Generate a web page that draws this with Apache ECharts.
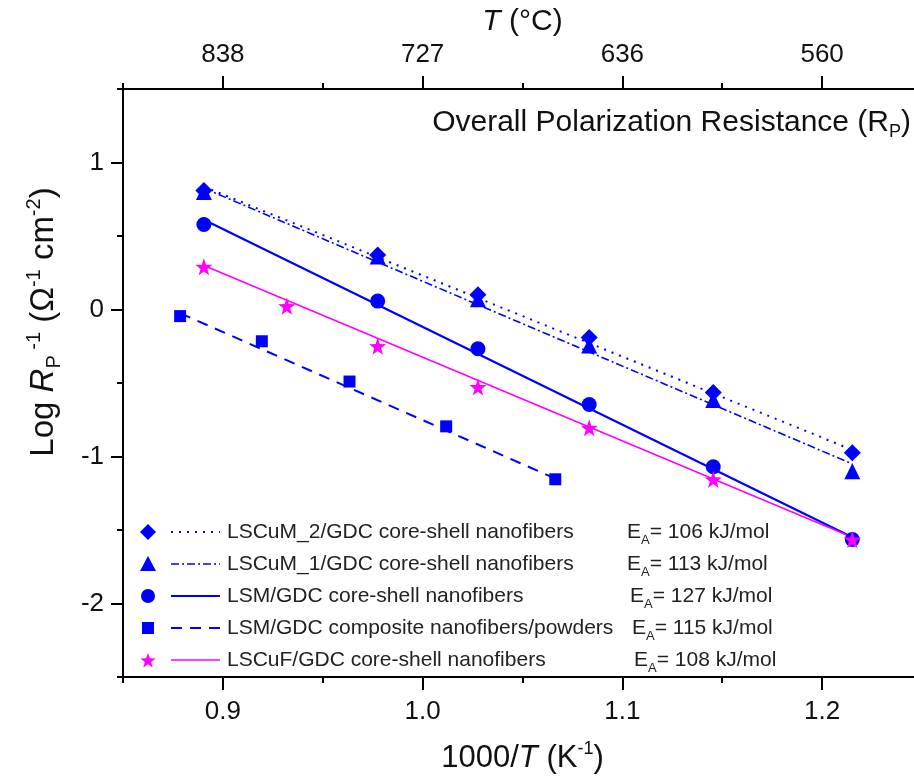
<!DOCTYPE html>
<html>
<head>
<meta charset="utf-8">
<script src="https://cdn.jsdelivr.net/npm/echarts@6/dist/echarts.min.js"></script>
<style>html,body{margin:0;padding:0;background:#fff;}#c{width:914px;height:782px;}</style>
</head>
<body>
<div id="c"></div>
<script>
// ---- data ----
const xCommon = [0.8905, 0.9775, 1.0277, 1.0834, 1.1455, 1.2151];
const lscum2 = [0.81, 0.37, 0.10, -0.19, -0.565, -0.975];
const lscum1 = [0.80, 0.36, 0.07, -0.245, -0.615, -1.10];
const lsmCoreShell = [0.578, 0.057, -0.267, -0.646, -1.07, -1.565];
const xComposite = [0.8786, 0.9195, 0.9634, 1.0118, 1.0664];
const lsmComposite = [-0.045, -0.216, -0.49, -0.795, -1.155];
const xLscuf = [0.8905, 0.932, 0.9775, 1.0277, 1.0834, 1.1455, 1.2151];
const lscuf = [0.29, 0.022, -0.25, -0.528, -0.805, -1.156, -1.565];
// fitted lines (end points)
const fitX = [0.8905, 1.2151];
const fitLscum2 = [0.835, -0.955];
const fitLscum1 = [0.825, -1.05];
const fitLsm = [0.61, -1.55];
const fitLscuf = [0.30, -1.55];
const fitCompX = [0.8786, 1.0664];
const fitComp = [-0.025, -1.15];
// ticks & labels
const xMajor = [0.9, 1.0, 1.1, 1.2];
const xMinor = [0.85, 0.95, 1.05, 1.15, 1.25];
const bottomLabels = ['0.9', '1.0', '1.1', '1.2'];
const topLabels = ['838', '727', '636', '560'];
const yMajor = [-2, -1, 0, 1];
const yMinor = [-2.5, -1.5, -0.5, 0.5, 1.5];
const yLabels = ['-2', '-1', '0', '1'];
const seriesNames = [
  'LSCuM_2/GDC core-shell nanofibers',
  'LSCuM_1/GDC core-shell nanofibers',
  'LSM/GDC core-shell nanofibers',
  'LSM/GDC composite nanofibers/powders',
  'LSCuF/GDC core-shell nanofibers'
];
const eaValues = ['106', '113', '127', '115', '108'];

// ---- styling ----
const FONT = 'Liberation Sans, Arial, Helvetica, sans-serif';
const BLUE = '#0000ff';
const MAG = '#ff00ff';
const TXT = '#111';
const STAR = 'path://M0,-100 L23.5,-32.4 L95.1,-30.9 L38,12.4 L58.8,80.9 L0,40 L-58.8,80.9 L-38,12.4 L-95.1,-30.9 L-23.5,-32.4 Z';

function zip(xs, ys) { return xs.map((x, i) => [x, ys[i]]); }
function pick(values, labels, v) {
  let best = 0, d = Infinity;
  values.forEach((t, i) => { const e = Math.abs(t - v); if (e < d) { d = e; best = i; } });
  return labels[best];
}

const chart = echarts.init(document.getElementById('c'), null, {renderer: 'canvas'});

const axisLineStyle = {show: true, onZero: false, lineStyle: {color: '#000', width: 2}};
const noLine = {show: false, onZero: false};
function richAxis(fs, ss) {
  return {
    t: {fontSize: fs, fontFamily: FONT, color: TXT},
    i: {fontSize: fs, fontFamily: FONT, fontStyle: 'italic', color: TXT},
    sup: {fontSize: ss, fontFamily: FONT, color: TXT, padding: [0, 0, 18, 0]},
    sub: {fontSize: ss, fontFamily: FONT, color: TXT, padding: [18, 0, 0, 0]}
  };
}

const xBase = {
  type: 'value', min: 0.85, max: 1.25, interval: 0.05,
  splitLine: {show: false}, gridIndex: 0
};

const option = {
  animation: false,
  backgroundColor: '#fff',
  grid: {left: 123, right: -8, top: 89, bottom: 105, outerBoundsMode: 'none', containLabel: false},
  xAxis: [
    Object.assign({}, xBase, {
      position: 'bottom',
      axisLine: axisLineStyle,
      axisTick: {show: true, inside: false, length: 13, customValues: xMajor, lineStyle: {color: '#000', width: 2}},
      axisLabel: {show: true, customValues: xMajor, margin: 22, fontSize: 26, fontFamily: FONT, color: TXT,
        formatter: v => pick(xMajor, bottomLabels, v)},
      name: '{t|1000/}{i|T}{t| (K}{sup|-1}{t|)}',
      nameLocation: 'middle', nameGap: 63,
      nameTextStyle: {fontSize: 31, fontFamily: FONT, color: TXT, rich: richAxis(31, 18)}
    }),
    Object.assign({}, xBase, {
      position: 'bottom',
      axisLine: noLine,
      axisTick: {show: true, inside: false, length: 6, customValues: xMinor, lineStyle: {color: '#000', width: 2}},
      axisLabel: {show: false}
    }),
    Object.assign({}, xBase, {
      position: 'top',
      axisLine: axisLineStyle,
      axisTick: {show: true, inside: false, length: 13, customValues: xMajor, lineStyle: {color: '#000', width: 2}},
      axisLabel: {show: true, customValues: xMajor, margin: 21, fontSize: 26, fontFamily: FONT, color: TXT,
        formatter: v => pick(xMajor, topLabels, v)},
      name: '{i|T}{t| (°C)}',
      nameLocation: 'middle', nameGap: 52,
      nameTextStyle: {fontSize: 30, fontFamily: FONT, color: TXT, rich: richAxis(30, 18)}
    }),
    Object.assign({}, xBase, {
      position: 'top',
      axisLine: noLine,
      axisTick: {show: true, inside: false, length: 6, customValues: xMinor, lineStyle: {color: '#000', width: 2}},
      axisLabel: {show: false}
    })
  ],
  yAxis: [
    {
      type: 'value', min: -2.5, max: 1.5, interval: 0.5, position: 'left',
      splitLine: {show: false},
      axisLine: axisLineStyle,
      axisTick: {show: true, inside: false, length: 12, customValues: yMajor, lineStyle: {color: '#000', width: 2}},
      axisLabel: {show: true, customValues: yMajor, margin: 19, fontSize: 26, fontFamily: FONT, color: TXT,
        formatter: v => pick(yMajor, yLabels, v)}
    },
    {
      type: 'value', min: -2.5, max: 1.5, interval: 0.5, position: 'left',
      splitLine: {show: false},
      axisLine: noLine,
      axisTick: {show: true, inside: false, length: 6, customValues: yMinor, lineStyle: {color: '#000', width: 2}},
      axisLabel: {show: false}
    }
  ],
  series: [
    {type: 'line', name: 'fit0', data: zip(fitX, fitLscum2), symbol: 'none', z: 2,
      lineStyle: {color: BLUE, width: 2, type: [2, 6]}},
    {type: 'line', name: 'fit1', data: zip(fitX, fitLscum1), symbol: 'none', z: 2,
      lineStyle: {color: BLUE, width: 1.6, type: [8, 3, 2, 3]}},
    {type: 'line', name: 'fit2', data: zip(fitX, fitLsm), symbol: 'none', z: 2,
      lineStyle: {color: BLUE, width: 2.2}},
    {type: 'line', name: 'fit3', data: zip(fitCompX, fitComp), symbol: 'none', z: 2,
      lineStyle: {color: BLUE, width: 2, type: [11, 8]}},
    {type: 'line', name: 'fit4', data: zip(fitX, fitLscuf), symbol: 'none', z: 2,
      lineStyle: {color: MAG, width: 1.6}},
    {type: 'scatter', name: seriesNames[1], data: zip(xCommon, lscum1), symbol: 'triangle', symbolSize: 16,
      itemStyle: {color: BLUE, opacity: 1}, z: 3},
    {type: 'scatter', name: seriesNames[0], data: zip(xCommon, lscum2), symbol: 'diamond', symbolSize: [17, 17],
      itemStyle: {color: BLUE, opacity: 1}, z: 3},
    {type: 'scatter', name: seriesNames[2], data: zip(xCommon, lsmCoreShell), symbol: 'circle', symbolSize: 15,
      itemStyle: {color: BLUE, opacity: 1}, z: 3},
    {type: 'scatter', name: seriesNames[3], data: zip(xComposite, lsmComposite), symbol: 'rect', symbolSize: 12,
      itemStyle: {color: BLUE, opacity: 1}, z: 3},
    {type: 'scatter', name: seriesNames[4], data: zip(xLscuf, lscuf), symbol: STAR, symbolSize: 17,
      itemStyle: {color: MAG, opacity: 1}, z: 4}
  ],
  graphic: []
};

// ---- legend, inner title and y-axis title drawn as graphic elements ----
const rowY = [532, 564, 596, 628, 660];
const symX = 148, lineX0 = 171, lineX1 = 220, textX = 227;
const eaX = [627, 627, 630, 632, 634];
const g = [];
function starPoints(cx, cy, R, r) {
  const pts = [];
  for (let k = 0; k < 10; k++) {
    const a = -Math.PI / 2 + k * Math.PI / 5;
    const rr = k % 2 === 0 ? R : r;
    pts.push([cx + rr * Math.cos(a), cy + rr * Math.sin(a)]);
  }
  return pts;
}
g.push({type: 'polygon', shape: {points: [[symX, rowY[0] - 8], [symX + 8, rowY[0]], [symX, rowY[0] + 8], [symX - 8, rowY[0]]]}, style: {fill: BLUE}});
g.push({type: 'polygon', shape: {points: [[symX, rowY[1] - 8], [symX + 8, rowY[1] + 7], [symX - 8, rowY[1] + 7]]}, style: {fill: BLUE}});
g.push({type: 'circle', shape: {cx: symX, cy: rowY[2], r: 7}, style: {fill: BLUE}});
g.push({type: 'rect', shape: {x: symX - 6, y: rowY[3] - 6, width: 12, height: 12}, style: {fill: BLUE}});
g.push({type: 'polygon', shape: {points: starPoints(symX, rowY[4] + 1, 8, 3.3)}, style: {fill: MAG}});
const dashes = [[2, 6], [8, 3, 2, 3], null, [11, 8], null];
const lcol = [BLUE, BLUE, BLUE, BLUE, MAG];
const lw = [2, 1.6, 2.2, 2, 1.6];
rowY.forEach((y, i) => {
  g.push({type: 'line', shape: {x1: lineX0, y1: y, x2: lineX1, y2: y},
    style: {stroke: lcol[i], lineWidth: lw[i], lineDash: dashes[i]}});
  g.push({type: 'text', x: textX, y: y, style: {text: seriesNames[i], fontSize: 21, fontFamily: FONT, fill: '#222',
    align: 'left', verticalAlign: 'middle'}});
  g.push({type: 'text', x: eaX[i], y: y, style: {
    text: '{n|E}{s|A}{n|= ' + eaValues[i] + ' kJ/mol}', fontSize: 21, fontFamily: FONT, fill: '#222',
    align: 'left', verticalAlign: 'middle',
    rich: {n: {fontSize: 21, fontFamily: FONT, fill: '#222'}, s: {fontSize: 13, fontFamily: FONT, fill: '#222', padding: [16, 0, 0, 0]}}
  }});
});
g.push({type: 'text', x: 911, y: 123, style: {
  text: '{n|Overall Polarization Resistance (R}{s|P}{n|)}', fontSize: 30, fontFamily: FONT, fill: TXT,
  align: 'right', verticalAlign: 'middle',
  rich: {n: {fontSize: 30, fontFamily: FONT, fill: TXT}, s: {fontSize: 18, fontFamily: FONT, fill: TXT, padding: [18, 0, 0, 0]}}
}});
g.push({type: 'text', x: 44, y: 322, rotation: Math.PI / 2, style: {
  text: '{t|Log }{i|R}{sub|P}{sup| -1}{t| (Ω}{sup|-1}{t| cm}{sup|-2}{t|)}',
  fontSize: 33, fontFamily: FONT, fill: TXT, align: 'center', verticalAlign: 'middle',
  rich: {
    t: {fontSize: 33, fontFamily: FONT, fill: TXT},
    i: {fontSize: 33, fontFamily: FONT, fontStyle: 'italic', fill: TXT},
    sup: {fontSize: 20, fontFamily: FONT, fill: TXT, padding: [0, 0, 20, 0]},
    sub: {fontSize: 20, fontFamily: FONT, fill: TXT, padding: [20, 0, 0, 0]}
  }
}});
option.graphic = g;

chart.setOption(option);
</script>
</body>
</html>
